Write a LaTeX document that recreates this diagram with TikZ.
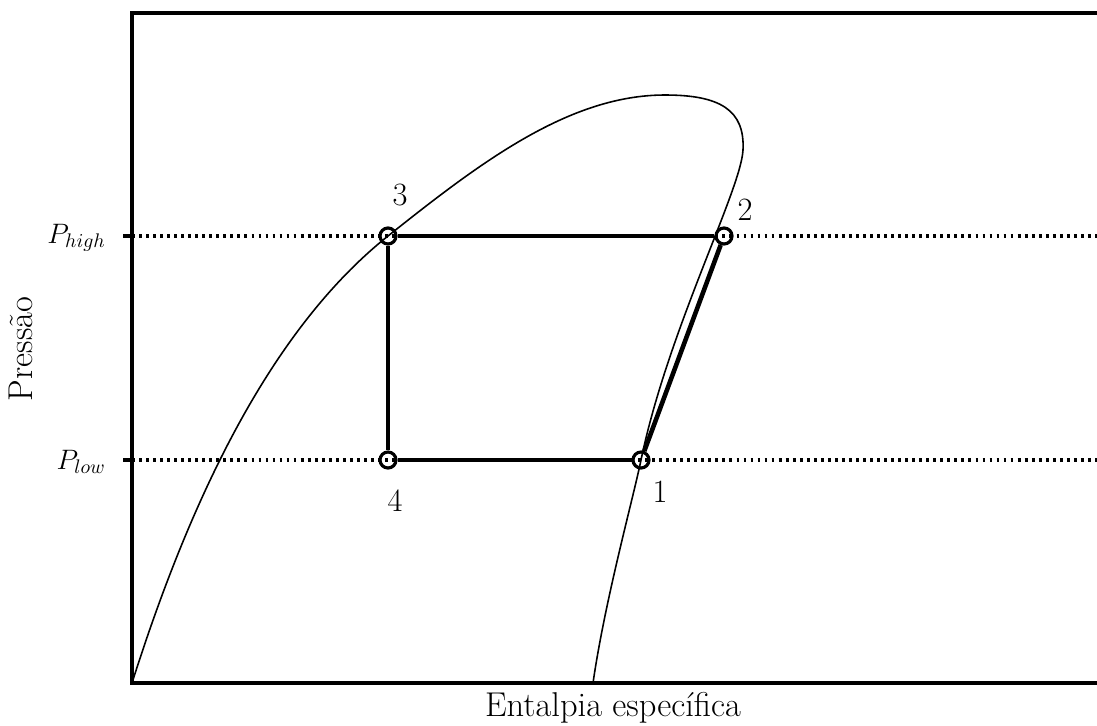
\RequirePackage{fix-cm}
\documentclass[tikz,border=0pt]{standalone}
\usepackage{fontspec}
\usetikzlibrary{positioning}

\begin{document}
\begin{tikzpicture}[
  x=0.2mm, y=-0.2mm,
  axis/.style={line width=1.8pt},
  state/.style={
    draw,
    circle,
    line width=1.8pt,
    minimum size=0.32cm,
    inner sep=0pt
  },
  cycleline/.style={line width=2.6pt},
  level/.style={line width=1.8pt, dash pattern=on 1.6pt off 2.4pt},
  dome/.style={line width=0.9pt},
  num/.style={font=\fontsize{18.5}{22}\selectfont},
  plabel/.style={anchor=east, inner sep=0pt, font=\fontsize{16}{19}\selectfont}
]
  \useasboundingbox (0,0) rectangle (1097,725);

  % axes
  \coordinate (origin) at (132,683);
  \coordinate (top) at (132,13);
  \draw[axis] (1097,13) -- (top) -- (origin) -- (1097,683);
  \node[font=\fontsize{19.6}{23}\selectfont] (xlabel) at (613,708) {Entalpia específica};
  \node[font=\fontsize{19.6}{23}\selectfont, rotate=90] (ylabel) at (21,349) {Pressão};

  % pressure levels
  \coordinate (hi) at (132,236);
  \coordinate (lo) at (132,460);
  \draw[axis] (123,236) -- (hi);
  \draw[axis] (123,460) -- (lo);
  \draw[level] (hi) -- (1097,236);
  \draw[level] (lo) -- (1097,460);
  \node[plabel] (phigh) at (106,238) {$P_{high}$};
  \node[plabel] (plow) at (106,462) {$P_{low}$};

  % saturation dome
  \draw[dome] (origin) .. controls (190,500) and (270,330) .. (388,236)
    .. controls (482,161) and (570,95) .. (665,95)
    .. controls (720,95) and (745,110) .. (743,150)
    .. controls (741,190) and (668,330) .. (641,460)
    .. controls (633,499) and (605,600) .. (593,683);

  % cycle
  \node[state] (p1) at (641,460) {};
  \node[state] (p2) at (724,236) {};
  \node[state] (p3) at (388,236) {};
  \node[state] (p4) at (388,460) {};
  \draw[cycleline] (p1) -- (p2);
  \draw[cycleline] (p2) -- (p3);
  \draw[cycleline] (p3) -- (p4);
  \draw[cycleline] (p4) -- (p1);

  \node[num] (n1) at (660,492) {1};
  \node[num] (n2) at (745,210) {2};
  \node[num] (n3) at (400,195) {3};
  \node[num] (n4) at (395,501) {4};
\end{tikzpicture}
\end{document}
